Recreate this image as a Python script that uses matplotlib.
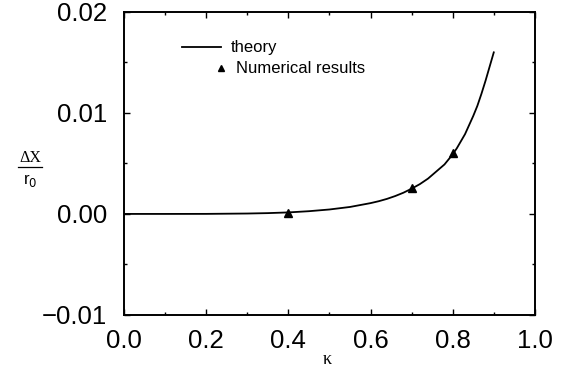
import matplotlib
matplotlib.use("Agg")
import matplotlib.pyplot as plt
from matplotlib.lines import Line2D
from matplotlib.ticker import MultipleLocator, FixedLocator, FixedFormatter

# theory curve
kappa_theory = [0.0, 0.1, 0.2, 0.3, 0.35, 0.4, 0.45, 0.5, 0.55, 0.6, 0.62, 0.64,
                0.66, 0.68, 0.7, 0.72, 0.74, 0.76, 0.78, 0.8, 0.81, 0.82, 0.83,
                0.84, 0.85, 0.86, 0.87, 0.88, 0.89, 0.9]
dx_theory = [0.0, 0.0, 0.000005, 0.00004, 0.00008, 0.00015, 0.00027, 0.00044,
             0.00069, 0.00107, 0.00126, 0.00149, 0.00177, 0.0021, 0.0025,
             0.00295, 0.0035, 0.0042, 0.0049, 0.0059, 0.0065, 0.0072, 0.0079,
             0.0088, 0.0097, 0.0107, 0.0119, 0.0132, 0.0146, 0.0160]

# numerical results
kappa_num = [0.4, 0.7, 0.8]
dx_num = [0.0001, 0.0026, 0.0060]

xticks = [0.0, 0.2, 0.4, 0.6, 0.8, 1.0]
xticklabels = ["0.0", "0.2", "0.4", "0.6", "0.8", "1.0"]
yticks = [-0.01, 0.0, 0.01, 0.02]
yticklabels = ["\u22120.01", "0.00", "0.01", "0.02"]

plt.rcParams['font.family'] = ['Liberation Sans', 'DejaVu Sans']

fig = plt.figure(figsize=(5.69, 3.74), dpi=100)
ax = fig.add_axes([0.218, 0.158, 0.722, 0.810])

ax.plot(kappa_theory, dx_theory, color='black', lw=1.3)
ax.plot(kappa_num, dx_num, linestyle='none', marker='^', color='black', ms=5.5)

ax.set_xlim(0.0, 1.0)
ax.set_ylim(-0.01, 0.02)
ax.xaxis.set_major_locator(FixedLocator(xticks))
ax.xaxis.set_major_formatter(FixedFormatter(xticklabels))
ax.yaxis.set_major_locator(FixedLocator(yticks))
ax.yaxis.set_major_formatter(FixedFormatter(yticklabels))
ax.xaxis.set_minor_locator(MultipleLocator(0.1))
ax.yaxis.set_minor_locator(MultipleLocator(0.005))
ax.tick_params(which='both', direction='in', top=True, right=True, width=1.0)
ax.tick_params(which='major', length=4)
ax.tick_params(which='minor', length=2.5)
ax.tick_params(axis='x', which='major', labelsize=18.5, pad=10)
ax.tick_params(axis='y', which='major', labelsize=18.5, pad=12)
for s in ax.spines.values():
    s.set_linewidth(1.4)

# legend drawn in axes coordinates
ax.add_line(Line2D([0.141, 0.236], [0.884, 0.884], transform=ax.transAxes,
                   color='black', lw=1.3))
ax.text(0.260, 0.884, "theory", transform=ax.transAxes, fontsize=12,
        va='center', ha='left')
ax.add_line(Line2D([0.236], [0.815], transform=ax.transAxes, marker='^',
                   color='black', ms=5, linestyle='none'))
ax.text(0.272, 0.815, "Numerical results", transform=ax.transAxes,
        fontsize=12, va='center', ha='left')

# x label
fig.text(327 / 569, 1 - 360 / 374, "\u03ba", family=['Liberation Serif', 'DejaVu Serif'],
         fontsize=13, ha='center', va='center')

# y label as a fraction
cx = 30 / 569
fig.text(cx, 1 - 158 / 374, "\u0394X", family=['Liberation Serif', 'DejaVu Serif'],
         fontsize=11.5, ha='center', va='center')
fig.add_artist(Line2D([18 / 569, 42 / 569], [1 - 167 / 374, 1 - 167 / 374],
                      color='black', lw=0.9))
fig.text(cx, 1 - 181 / 374, "r$_0$", fontsize=12, ha='center', va='center')

fig.savefig("out.png", dpi=100)
